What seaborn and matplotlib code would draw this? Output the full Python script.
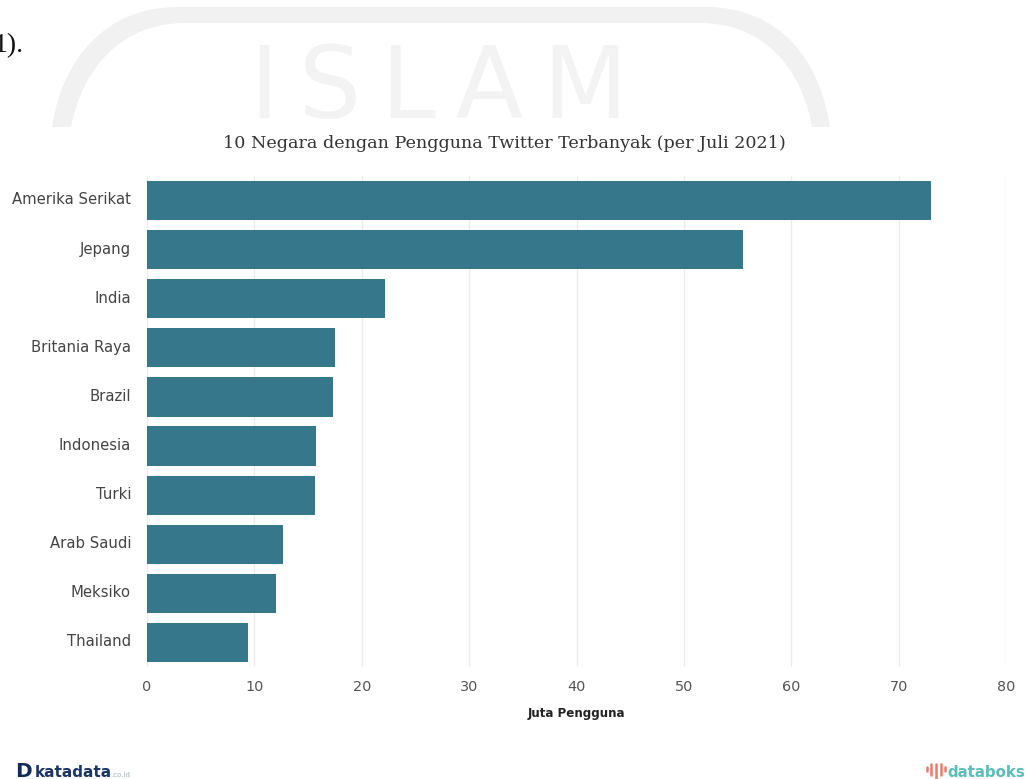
import matplotlib
matplotlib.use("Agg")
import matplotlib.pyplot as plt
from matplotlib.patches import PathPatch
from matplotlib.path import Path
from matplotlib.transforms import ScaledTranslation
import pandas as pd
import seaborn as sns

countries = ["Amerika Serikat", "Jepang", "India", "Britania Raya", "Brazil",
             "Indonesia", "Turki", "Arab Saudi", "Meksiko", "Thailand"]
users = [73.0, 55.5, 22.2, 17.55, 17.35, 15.75, 15.6, 12.7, 12.0, 9.45]
x_ticks = [0, 10, 20, 30, 40, 50, 60, 70, 80]

W, H = 1028, 779
sns.set_theme(style="white")
plt.rcParams["font.family"] = ["DejaVu Sans"]
fig = plt.figure(figsize=(W / 100, H / 100), dpi=100, facecolor="white")

# Page layer in pixel coordinates: watermark, running text and logos
page = fig.add_axes([0, 0, 1, 1], zorder=0)
page.set_xlim(0, W)
page.set_ylim(H, 0)
page.axis("off")

arch = [
    (Path.MOVETO, (52, 127)),
    (Path.CURVE4, (62, 60)), (Path.CURVE4, (105, 7)), (Path.CURVE4, (178, 7)),
    (Path.LINETO, (705, 7)),
    (Path.CURVE4, (780, 7)), (Path.CURVE4, (820, 60)), (Path.CURVE4, (830, 127)),
    (Path.LINETO, (812, 127)),
    (Path.CURVE4, (802, 70)), (Path.CURVE4, (765, 23)), (Path.CURVE4, (700, 23)),
    (Path.LINETO, (185, 23)),
    (Path.CURVE4, (120, 23)), (Path.CURVE4, (82, 70)), (Path.CURVE4, (71, 127)),
    (Path.CLOSEPOLY, (52, 127)),
]
codes, verts = zip(*arch)
page.add_patch(PathPatch(Path(verts, codes), facecolor="#f1f1f1", edgecolor="none"))
page.text(439, 118, "I\u2009S\u2009L\u2009A\u2009M", ha="center", va="baseline",
          fontsize=71, color="#f3f3f3", family="DejaVu Sans")
page.text(-6, 52, "1).", fontsize=20, color="#111111", family="Liberation Serif",
          ha="left", va="baseline")

# Footer logos
page.text(15, 777, "D", fontsize=14.5, fontweight="black", color="#14295c",
          family="DejaVu Sans", ha="left", va="baseline")
page.text(35, 777, "katadata", fontsize=11, fontweight="bold", color="#1c3567",
          family="DejaVu Sans", ha="left", va="baseline")
page.text(111, 777, ".co.id", fontsize=5, color="#9fb3bb",
          family="DejaVu Sans", ha="left", va="baseline")
page.text(947, 777, "databoks", fontsize=10.8, fontweight="bold", color="#5cbcb8",
          family="DejaVu Sans", ha="left", va="baseline")
for y0, y1, x in [(767, 771, 927), (764, 775, 931), (764, 779, 936), (764, 775, 941), (767, 771, 945)]:
    page.plot([x, x], [y0, y1], color="#ea7b68", lw=1.8, solid_capstyle="round")

# Chart layer
left, right, top, bottom = 147, 1006, 176, 667
ax = fig.add_axes([left / W, 1 - bottom / H, (right - left) / W, (bottom - top) / H], zorder=1)
ax.patch.set_alpha(0)

data = pd.DataFrame({"country": countries, "users": users})
sns.barplot(data=data, x="users", y="country", orient="y", color="#2f7186",
            saturation=1, width=0.8, alpha=0.96, linewidth=0, ax=ax, zorder=3)

ax.set_xlim(0, 80)
ax.set_xticks(x_ticks)
ax.set_ylim(9.5, -0.5)
ax.grid(axis="x", color="#ececec", lw=1)
ax.grid(axis="y", visible=False)
ax.set_axisbelow(True)
sns.despine(ax=ax, left=True, bottom=True)
ax.tick_params(axis="x", length=0, pad=9.5, labelsize=10.4, labelcolor="#555555")
ax.tick_params(axis="y", length=0, pad=11.5, labelsize=10.7, labelcolor="#444444")

# Nudge the country labels up so they sit centred on their bars
nudge = ScaledTranslation(0, 1.5 / 72, fig.dpi_scale_trans)
for label in ax.get_yticklabels():
    label.set_transform(label.get_transform() + nudge)

ax.set_xlabel("Juta Pengguna", fontsize=8.6, fontweight="bold", color="#222222", labelpad=9)
ax.set_ylabel("")
fig.text(504 / W, 1 - 148 / H, "10 Negara dengan Pengguna Twitter Terbanyak (per Juli 2021)",
         ha="center", va="baseline", fontsize=12.6, color="#333333", family="DejaVu Serif")

fig.savefig("out.png", dpi=100, facecolor="white")
